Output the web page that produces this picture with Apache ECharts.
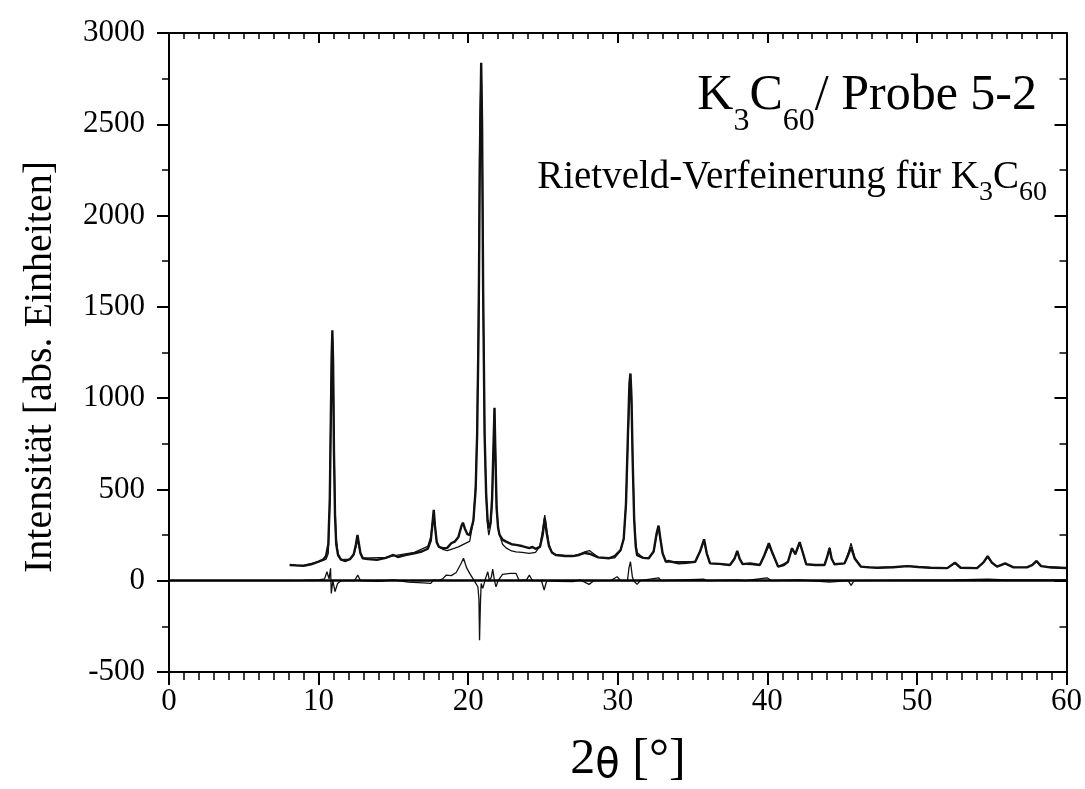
<!DOCTYPE html>
<html><head><meta charset="utf-8">
<script src="https://cdn.jsdelivr.net/npm/echarts@6/dist/echarts.min.js"></script>
<style>html,body{margin:0;padding:0;background:#fff}#c{width:1085px;height:789px}</style>
</head><body><div id="c"></div>
<script>
// ---- data ----
const xTicks = [0, 10, 20, 30, 40, 50, 60];
const yTicks = [-500, 0, 500, 1000, 1500, 2000, 2500, 3000];

// measured pattern (2theta, intensity)
const obsX = [8.07,8.5,9.0,9.5,10.0,10.3,10.5,10.65,10.75,10.82,10.88,10.92,10.97,11.03,11.1,11.18,11.3,11.5,11.8,12.1,12.35,12.5,12.6,12.7,12.8,12.95,13.3,13.9,14.5,15.0,15.3,15.8,16.4,16.9,17.3,17.5,17.62,17.7,17.78,17.9,18.05,18.3,18.6,18.87,19.1,19.35,19.55,19.65,19.78,19.95,20.1,20.35,20.5,20.6,20.7,20.78,20.87,20.93,21.0,21.1,21.2,21.3,21.38,21.5,21.6,21.68,21.76,21.82,21.9,22.0,22.1,22.3,22.53,22.9,23.2,23.6,24.09,24.3,24.5,24.8,24.98,25.12,25.25,25.4,25.6,25.86,26.5,27.0,27.41,27.8,28.1,28.7,29.4,29.8,30.19,30.4,30.55,30.68,30.78,30.85,30.92,31.0,31.1,31.2,31.29,31.7,32.07,32.4,32.6,32.73,32.85,33.0,33.22,33.4,34.07,34.6,35.18,35.5,35.77,35.95,36.17,36.8,37.5,37.8,37.99,38.15,38.35,38.84,39.5,39.8,40.1,40.35,40.72,41.1,41.38,41.65,41.87,42.16,42.35,42.6,43.2,43.82,44.0,44.16,44.3,44.49,45.16,45.4,45.6,45.85,46.26,46.8,47.37,48.4,49.37,50.1,50.92,52.03,52.54,52.92,54.02,54.45,54.73,55.0,55.36,55.9,56.46,57.35,57.7,58.0,58.3,59.0,60.0];
const obsY = [86,84,82,90,105,115,135,200,450,900,1250,1372,1200,700,350,200,140,115,108,118,145,200,251,200,150,123,118,114,125,141,130,140,150,160,175,220,320,388,300,210,185,178,180,205,214,240,300,318,285,255,250,330,500,800,1400,2300,2837,2500,1600,800,480,330,287,320,450,700,947,700,400,290,251,225,214,200,196,190,178,185,175,185,250,342,260,190,155,141,135,135,141,152,148,128,123,135,168,230,420,800,1080,1135,1000,650,330,190,140,125,123,160,260,302,230,150,104,108,95,98,104,160,227,150,95,92,86,120,163,120,91,95,86,140,205,150,77,85,104,178,145,211,160,90,86,86,130,178,120,90,95,140,183,120,77,73,71,74,80,75,71,69,99,71,69,100,135,100,77,95,73,73,85,108,80,72,70];

// calculated (Rietveld) pattern
const calcX = [8.07,9.0,10.0,10.3,10.5,10.65,10.75,10.82,10.88,10.92,10.97,11.03,11.1,11.18,11.3,11.5,12.1,12.35,12.5,12.6,12.7,12.8,12.95,14.5,15.0,16.4,17.3,17.5,17.62,17.7,17.78,17.9,18.05,18.3,18.6,18.87,19.1,19.35,19.65,19.95,20.1,20.35,20.5,20.6,20.7,20.78,20.87,20.93,21.0,21.1,21.2,21.3,21.38,21.5,21.6,21.68,21.76,21.82,21.9,22.0,22.1,22.3,22.53,22.9,23.2,23.6,24.09,24.5,24.8,24.98,25.12,25.25,25.4,25.6,25.86,27.0,27.41,27.8,28.1,28.7,29.4,29.8,30.19,30.4,30.55,30.68,30.78,30.85,30.92,31.0,31.1,31.2,31.29,31.7,32.07,32.4,32.6,32.73,32.85,33.0,33.22,35.18,35.5,35.77,35.95,36.17,37.5,37.8,37.99,38.15,38.35,39.5,39.8,40.1,40.35,40.72,41.38,41.65,41.87,42.16,42.35,42.6,43.82,44.0,44.16,44.3,44.49,45.16,45.4,45.6,45.85,46.26,47.37,49.37,50.92,52.03,52.54,52.92,54.02,54.45,54.73,55.0,55.36,55.9,56.46,57.35,57.7,58.0,58.3,60.0];
const calcY = [86,82,105,112,118,150,420,950,1300,1340,1250,760,410,230,150,115,118,140,185,225,190,150,123,128,136,155,188,240,320,375,300,215,185,172,165,172,178,185,198,210,215,330,520,850,1550,2500,2820,2520,1600,790,470,300,250,300,420,680,945,730,420,290,251,200,180,163,158,155,150,155,190,280,360,280,200,155,141,135,145,158,165,128,123,125,165,230,420,760,990,1030,960,660,350,210,155,125,123,160,250,286,225,150,104,104,160,219,150,95,86,120,160,120,91,86,135,190,150,77,104,178,145,206,160,90,86,130,182,120,90,95,150,205,125,77,71,80,71,69,95,71,69,100,128,100,77,93,73,73,85,104,80,70];

// difference curve (obs - calc)
const diffX = [0,8.0,9.0,10.0,10.4,10.56,10.7,10.8,10.85,10.95,11.1,11.27,11.5,12.4,12.62,12.8,14.0,15.0,16.0,17.0,17.5,17.7,18.0,18.3,18.54,18.87,19.2,19.5,19.69,19.9,20.1,20.4,20.65,20.72,20.76,20.82,20.87,20.98,21.15,21.31,21.42,21.55,21.64,21.76,21.86,22.0,22.3,22.8,23.2,23.42,23.9,24.09,24.3,24.9,25.08,25.25,26.0,27.0,27.5,28.08,28.4,29.5,29.96,30.19,30.65,30.75,30.85,30.98,31.07,31.29,31.5,32.73,32.9,35.77,36.0,38.0,38.5,39.98,40.3,42.16,44.16,45.4,45.6,45.8,50.0,52.5,54.73,56.0,60.0];
const diffY = [0,0,2,5,10,49,10,68,-70,0,-60,-15,0,0,31,0,-3,5,-8,-12,-15,5,0,10,31,28,45,90,123,70,40,0,-33,-100,-326,-120,-15,-42,10,49,0,20,64,0,-33,0,35,40,40,0,5,31,0,0,-51,0,-3,-5,5,-20,0,0,22,0,0,70,104,20,0,-20,0,16,0,8,0,5,0,16,0,5,-8,0,-25,0,3,5,8,5,5];

const pairs = (xs, ys) => xs.map((x, i) => [x, ys[i]]);

// ---- text helpers ----
const mctx = document.createElement('canvas').getContext('2d');
const SERIF = 'Liberation Serif';
function tw(t, size, fam) { mctx.font = size + 'px "' + fam + '"'; return mctx.measureText(t).width; }
function layout(segs, ax, baseline, align) {
  const total = segs.reduce((s, g) => s + tw(g.t, g.size, g.fam || SERIF), 0);
  let x = align === 'right' ? ax - total : align === 'center' ? ax - total / 2 : ax;
  return segs.map(g => {
    const fam = g.fam || SERIF;
    const el = {
      type: 'text', x: x, y: baseline + (g.dy || 0) - 0.305 * g.size, silent: true,
      style: { text: g.t, font: g.size + 'px "' + fam + '"', fill: '#000',
               align: 'left', verticalAlign: 'middle', textAlign: 'left', textVerticalAlign: 'middle' }
    };
    x += tw(g.t, g.size, fam);
    return el;
  });
}

const graphics = [].concat(
  layout([{t:'K',size:50},{t:'3',size:32,dy:20},{t:'C',size:50},{t:'60',size:32,dy:20},{t:'/ Probe 5-2',size:50}], 1037, 111, 'right'),
  layout([{t:'Rietveld-Verfeinerung für K',size:39},{t:'3',size:28,dy:11},{t:'C',size:39},{t:'60',size:28,dy:11}], 1047, 190, 'right'),
  layout([{t:'2',size:50},{t:'θ',size:40,fam:'DejaVu Sans',dy:4},{t:' [°]',size:50}], 628, 775, 'center'),
  [{
    type: 'text', x: 40, y: 367, rotation: Math.PI / 2, silent: true,
    style: { text: 'Intensität [abs. Einheiten]', font: '40px "' + SERIF + '"', fill: '#000',
             align: 'center', verticalAlign: 'middle', textAlign: 'center', textVerticalAlign: 'middle' }
  }]
);

const axisLineStyle = { color: '#000', width: 2 };
const labelStyle = { fontFamily: SERIF, fontSize: 31, color: '#000', formatter: v => String(v) };

const chart = echarts.init(document.getElementById('c'), null, { renderer: 'canvas' });
chart.setOption({
  animation: false,
  backgroundColor: '#fff',
  grid: { left: 169, right: 15, top: 33, bottom: 117, containLabel: false },
  xAxis: [
    { type: 'value', position: 'bottom', min: xTicks[0], max: xTicks[xTicks.length - 1], interval: 10,
      axisLine: { show: true, onZero: false, lineStyle: axisLineStyle },
      axisTick: { show: true, inside: false, length: 13, lineStyle: { color: '#000', width: 2 } },
      minorTick: { show: true, splitNumber: 10, length: 8, lineStyle: { color: '#000', width: 1.5 } },
      splitLine: { show: false },
      axisLabel: Object.assign({ margin: 14 }, labelStyle) },
    { type: 'value', position: 'top', min: xTicks[0], max: xTicks[xTicks.length - 1], interval: 10,
      axisLine: { show: true, onZero: false, lineStyle: axisLineStyle },
      axisTick: { show: true, inside: true, length: 10, lineStyle: { color: '#000', width: 2 } },
      minorTick: { show: true, splitNumber: 10, length: 6, lineStyle: { color: '#000', width: 1.5 } },
      splitLine: { show: false }, axisLabel: { show: false } }
  ],
  yAxis: [
    { type: 'value', position: 'left', min: yTicks[0], max: yTicks[yTicks.length - 1], interval: 500,
      axisLine: { show: true, onZero: false, lineStyle: axisLineStyle },
      axisTick: { show: true, inside: false, length: 12, lineStyle: { color: '#000', width: 2 } },
      minorTick: { show: true, splitNumber: 2, length: 7, lineStyle: { color: '#000', width: 1.5 } },
      splitLine: { show: false },
      axisLabel: Object.assign({ margin: 24 }, labelStyle) },
    { type: 'value', position: 'right', min: yTicks[0], max: yTicks[yTicks.length - 1], interval: 500,
      axisLine: { show: true, onZero: false, lineStyle: axisLineStyle },
      axisTick: { show: true, inside: true, length: 12, lineStyle: { color: '#000', width: 2 } },
      minorTick: { show: true, splitNumber: 2, length: 7, lineStyle: { color: '#000', width: 1.5 } },
      splitLine: { show: false }, axisLabel: { show: false } }
  ],
  series: [
    { name: 'Differenz', type: 'line', data: pairs(diffX, diffY), showSymbol: false, symbol: 'none',
      lineStyle: { color: '#111', width: 1.3 },
      markLine: { silent: true, symbol: 'none', label: { show: false },
                  lineStyle: { color: '#000', width: 2.5, type: 'solid' }, data: [{ yAxis: 0 }] } },
    { name: 'berechnet', type: 'line', data: pairs(calcX, calcY), showSymbol: false, symbol: 'none',
      lineStyle: { color: '#111', width: 1.3 } },
    { name: 'gemessen', type: 'line', data: pairs(obsX, obsY), showSymbol: false, symbol: 'none',
      lineStyle: { color: '#111', width: 2.4 } }
  ],
  graphic: graphics
});
</script>
</body></html>
